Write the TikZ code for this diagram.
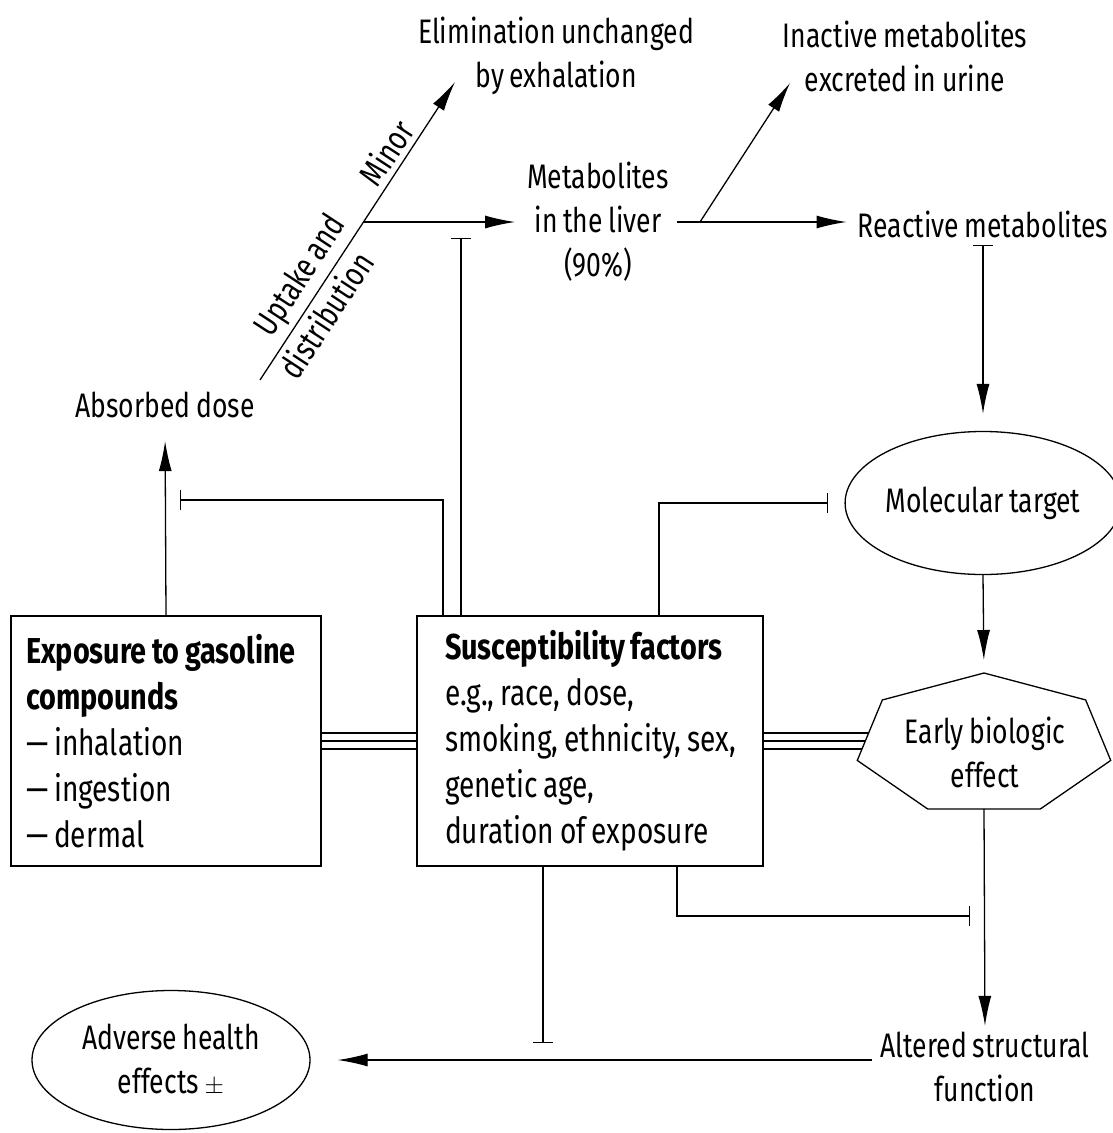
\documentclass[tikz,border=0pt]{standalone}
\usepackage{fontspec}
\setmainfont[FakeStretch=0.78,WordSpace=0.8,BoldFeatures={FakeStretch=0.8}]{Fira Sans}
\usetikzlibrary{arrows.meta,shapes.geometric,calc}
\newcommand{\tightsp}{\spaceskip=0pt\xspaceskip=0pt\hyphenpenalty=10000\relax}
\begin{document}
\begin{tikzpicture}[x=1pt,y=-1pt,
  every node/.style={font=\fontsize{34}{44}\selectfont, inner sep=0pt},
  ln/.style={line width=1.3pt},
  arr/.style={ln, -{Latex[length=30pt,width=13pt]}},
  inh/.style={ln, -{Bar[width=20pt,line width=1.3pt]}},
  lbl/.style={align=center},
  boxnode/.style={draw, ln, minimum height=250pt, align=left, font=\fontsize{36}{46}\selectfont}]
\useasboundingbox (0,0) rectangle (1112,1133);

% text nodes
\node[lbl] (elim) at (556,56) {Elimination unchanged\\by exhalation};
\node[lbl] (inact) at (905,56) {Inactive metabolites\\excreted in urine};
\node[lbl] (metab) at (598,222) {Metabolites\\in the liver\\(90\%)};
\node (react) at (983,224) {Reactive metabolites};
\node (absorbed) at (165,405) {Absorbed dose};
\node[draw, ellipse, ln, minimum width=268pt, minimum height=143pt] (mol) at (983,503) {Molecular target};
\node[lbl] (early) at (985,752) {Early biologic\\effect};
\node[lbl, draw, ellipse, ln, minimum width=278pt, minimum height=139pt] (adverse) at (171,1060) {Adverse health\\effects {\fontsize{42}{44}\selectfont$\pm$}};
\node[lbl] (altered) at (985,1067) {Altered structural\\function};

% boxes
\node[boxnode, text width=280pt, inner xsep=15pt] (expo) at (166,741)
  {\tightsp\textbf{Exposure to gasoline}\\\textbf{compounds}\\— inhalation\\— ingestion\\— dermal};
\node[boxnode, text width=300pt, inner xsep=23pt] (susc) at (590,741)
  {\tightsp\hspace*{5pt}\textbf{Susceptibility factors}\\\hspace*{5pt}e.g., race, dose,\\\hspace*{5pt}smoking, ethnicity, sex,\\\hspace*{5pt}genetic age,\\\hspace*{5pt}duration of exposure};

% heptagon
\coordinate (hc) at (984,744.5);
\draw[ln] ($(hc)+(90:130pt and 71.5pt)$)
  \foreach \a in {141.43,192.86,244.29,295.71,347.14,38.57}{ -- ($(hc)+(\a:130pt and 71.5pt)$)} -- cycle;
\coordinate (htop) at ($(hc)+(90:130pt and 71.5pt)$);
\coordinate (hbot) at ($(hc)+(270:130pt and 64.4pt)$);
\coordinate (hUL) at ($(hc)+(141.43:130pt and 71.5pt)$);
\coordinate (hL) at ($(hc)+(192.86:130pt and 71.5pt)$);
\coordinate (t1) at ($(hUL)!0.547!(hL)$);
\coordinate (t2) at ($(hUL)!0.679!(hL)$);
\coordinate (t3) at ($(hUL)!0.812!(hL)$);

% diagonal
\coordinate (d0) at (260,380);
\coordinate (br) at (363.5,222);
\coordinate (etip) at (455,82);
\draw[ln] (d0) -- (br)
  node[pos=0.58, sloped, above=5pt] {Uptake and}
  node[pos=0.48, sloped, below=5pt] {distribution};
\draw[arr] (br) -- (etip) node[pos=0.42, sloped, above=5pt] {Minor};
\draw[arr, shorten >=12pt] (br) -- (metab.west |- br);

% metabolism
\draw[arr, shorten <=8pt, shorten >=11pt] (metab.east) -- (metab.east -| react.west);
\coordinate (br2) at (700,0 |- metab.east);
\coordinate (itip) at (790,83);
\draw[arr] (br2) -- (itip);

% right chain
\draw[ln, {Bar[width=20pt,line width=1.3pt]}-{Latex[length=30pt,width=13pt]}, shorten >=17pt]
  ([yshift=-7pt]react.south) -- (mol.north);
\draw[arr, shorten >=13pt] (mol.south) -- (htop);
\draw[arr, shorten >=6pt] (hbot) -- (altered.north);
\draw[arr, shorten <=9pt, shorten >=27pt] (altered.west |- adverse.east) -- (adverse.east);

% exposure -> absorbed
\draw[arr, shorten >=23pt] (expo.north) -- (absorbed.south);

% triple lines
\foreach \t in {t1,t2,t3}{
  \draw[line width=1.2pt] (expo.east |- \t) -- (susc.west |- \t);
  \draw[line width=1.2pt] (susc.east |- \t) -- (\t);
}

% inhibitors from susceptibility factors
\draw[inh] (443,0 |- susc.north) |- (180,500);
\draw[inh] (461,0 |- susc.north) -- (461,238);
\draw[inh, shorten >=16pt] (659,0 |- susc.north) |- (mol.west);
\draw[inh] (543,0 |- susc.south) -- (543,1043);
\draw[inh] (677,0 |- susc.south) |- (970,916);
\end{tikzpicture}
\end{document}
